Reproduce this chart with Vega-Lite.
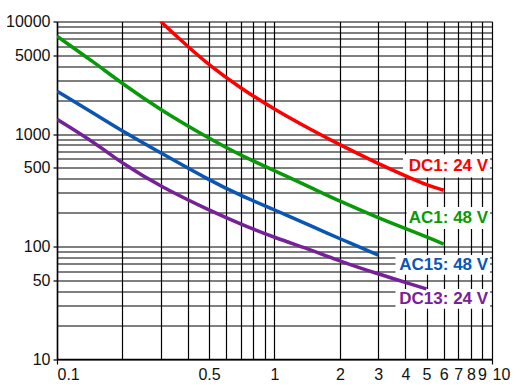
{
  "$schema": "https://vega.github.io/schema/vega-lite/v6.json",
  "autosize": {"type": "none"},
  "width": 435,
  "height": 337.5,
  "padding": {"left": 57, "top": 21.5, "right": 30, "bottom": 30},
  "background": "white",
  "config": {
    "view": {"stroke": null},
    "font": "Liberation Sans",
    "axis": {
      "grid": true,
      "gridColor": "#000000",
      "gridWidth": 1.2,
      "gridOpacity": 1,
      "domainColor": "#000000",
      "domainWidth": 1.5,
      "tickColor": "#000000",
      "tickWidth": 1.2,
      "labelColor": "#111111",
      "labelFont": "Liberation Sans",
      "labelFontSize": 16,
      "labelOverlap": false,
      "title": null
    }
  },
  "datasets": {
    "curves": [
      {"series": "DC1", "x": 0.3, "y": 10000},
      {"series": "DC1", "x": 0.35, "y": 7550},
      {"series": "DC1", "x": 0.4, "y": 6000},
      {"series": "DC1", "x": 0.5, "y": 4100},
      {"series": "DC1", "x": 0.7, "y": 2550},
      {"series": "DC1", "x": 1, "y": 1650},
      {"series": "DC1", "x": 1.5, "y": 1070},
      {"series": "DC1", "x": 2, "y": 800},
      {"series": "DC1", "x": 3, "y": 545},
      {"series": "DC1", "x": 4, "y": 425},
      {"series": "DC1", "x": 5, "y": 352},
      {"series": "DC1", "x": 6, "y": 316},
      {"series": "AC1", "x": 0.1, "y": 7400},
      {"series": "AC1", "x": 0.15, "y": 4250},
      {"series": "AC1", "x": 0.2, "y": 2800},
      {"series": "AC1", "x": 0.3, "y": 1630},
      {"series": "AC1", "x": 0.5, "y": 915},
      {"series": "AC1", "x": 0.7, "y": 645},
      {"series": "AC1", "x": 1, "y": 472},
      {"series": "AC1", "x": 1.5, "y": 328},
      {"series": "AC1", "x": 2, "y": 252},
      {"series": "AC1", "x": 3, "y": 180},
      {"series": "AC1", "x": 4, "y": 144},
      {"series": "AC1", "x": 5, "y": 122},
      {"series": "AC1", "x": 6, "y": 105},
      {"series": "AC15", "x": 0.1, "y": 2400},
      {"series": "AC15", "x": 0.15, "y": 1500},
      {"series": "AC15", "x": 0.2, "y": 1060},
      {"series": "AC15", "x": 0.3, "y": 680},
      {"series": "AC15", "x": 0.5, "y": 390},
      {"series": "AC15", "x": 0.7, "y": 283},
      {"series": "AC15", "x": 1, "y": 212},
      {"series": "AC15", "x": 1.5, "y": 150},
      {"series": "AC15", "x": 2, "y": 117},
      {"series": "AC15", "x": 3, "y": 84},
      {"series": "DC13", "x": 0.1, "y": 1350},
      {"series": "DC13", "x": 0.15, "y": 830},
      {"series": "DC13", "x": 0.2, "y": 545},
      {"series": "DC13", "x": 0.3, "y": 340},
      {"series": "DC13", "x": 0.5, "y": 210},
      {"series": "DC13", "x": 0.7, "y": 158},
      {"series": "DC13", "x": 1, "y": 120},
      {"series": "DC13", "x": 1.5, "y": 92},
      {"series": "DC13", "x": 2, "y": 74},
      {"series": "DC13", "x": 3, "y": 57},
      {"series": "DC13", "x": 4, "y": 48},
      {"series": "DC13", "x": 5, "y": 42}
    ],
    "labels": [
      {"series": "DC1", "label": "DC1: 24 V", "tx": 9.6, "ty": 520, "bx1": 3.9, "bx2": 9.8, "by1": 660, "by2": 410},
      {"series": "AC1", "label": "AC1: 48 V", "tx": 9.6, "ty": 179, "bx1": 4.05, "bx2": 9.8, "by1": 225, "by2": 143},
      {"series": "AC15", "label": "AC15: 48 V", "tx": 9.6, "ty": 68.5, "bx1": 3.6, "bx2": 9.8, "by1": 84, "by2": 56},
      {"series": "DC13", "label": "DC13: 24 V", "tx": 9.6, "ty": 34, "bx1": 3.6, "bx2": 9.8, "by1": 42, "by2": 28}
    ]
  },
  "layer": [
    {
      "data": {"name": "labels"},
      "mark": {"type": "rect", "fill": "white"},
      "encoding": {
        "x": {
          "field": "bx1", "type": "quantitative",
          "scale": {"type": "log", "domain": [0.1, 10], "nice": false},
          "axis": {
            "values": [0.1, 0.2, 0.3, 0.4, 0.5, 0.6, 0.7, 0.8, 0.9, 1, 2, 3, 4, 5, 6, 7, 8, 9, 10],
            "format": "~g",
            "labelExpr": "(datum.value == 0.1 || datum.value == 0.5 || datum.value >= 1) ? datum.label : ''",
            "tickSize": 5,
            "tickOpacity": {"condition": {"test": "datum.value == 0.1 || datum.value == 10", "value": 1}, "value": 0},
            "labelAlign": {"condition": {"test": "datum.value == 0.1 || datum.value == 10", "value": "left"}, "value": "center"},
            "labelPadding": 2
          }
        },
        "x2": {"field": "bx2"},
        "y": {
          "field": "by1", "type": "quantitative",
          "scale": {"type": "log", "domain": [10, 10000], "nice": false},
          "axis": {
            "values": [10, 20, 30, 40, 50, 60, 70, 80, 90, 100, 200, 300, 400, 500, 600, 700, 800, 900, 1000, 2000, 3000, 4000, 5000, 6000, 7000, 8000, 9000, 10000],
            "format": "~g",
            "labelExpr": "indexof([10, 50, 100, 500, 1000, 5000, 10000], datum.value) >= 0 ? datum.label : ''",
            "tickSize": 4,
            "tickOpacity": {"condition": {"test": "indexof([10, 50, 100, 500, 1000, 5000, 10000], datum.value) >= 0", "value": 1}, "value": 0},
            "labelPadding": 3
          }
        },
        "y2": {"field": "by2"}
      }
    },
    {
      "data": {"name": "curves"},
      "mark": {"type": "line", "strokeWidth": 3.5, "interpolate": "basis", "clip": true},
      "encoding": {
        "x": {"field": "x", "type": "quantitative"},
        "y": {"field": "y", "type": "quantitative"},
        "color": {
          "field": "series", "type": "nominal",
          "scale": {"domain": ["DC1", "AC1", "AC15", "DC13"], "range": ["#ff0000", "#089a08", "#0a56b4", "#76219a"]},
          "legend": null
        }
      }
    },
    {
      "data": {"name": "labels"},
      "mark": {"type": "text", "align": "right", "baseline": "middle", "fontSize": 17, "fontWeight": "bold", "font": "Liberation Sans"},
      "encoding": {
        "x": {"field": "tx", "type": "quantitative"},
        "y": {"field": "ty", "type": "quantitative"},
        "text": {"field": "label"},
        "color": {"field": "series", "type": "nominal", "legend": null}
      }
    }
  ]
}
